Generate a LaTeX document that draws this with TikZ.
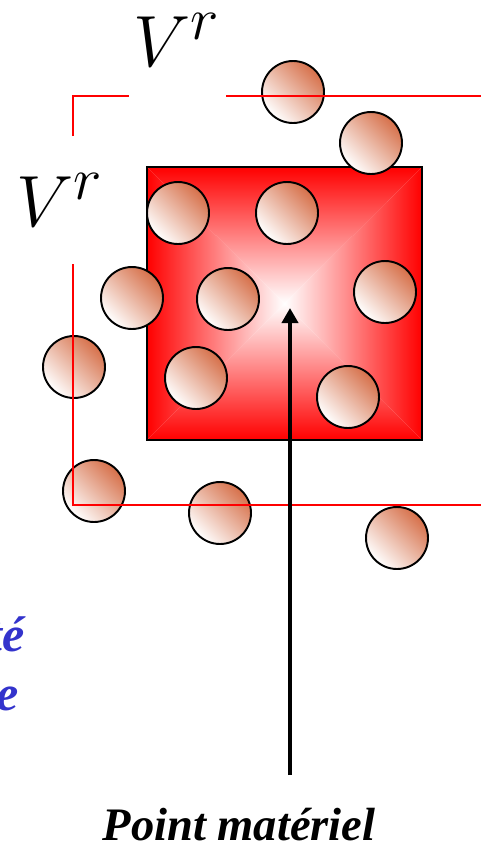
\documentclass[tikz,border=0pt]{standalone}
\usepackage{amsmath,amssymb}
\usepackage{fontspec}
\setmainfont{Liberation Serif}
\usepackage{xcolor}
\usepackage{tikz}
\usetikzlibrary{arrows.meta, positioning, calc}

\definecolor{grainbrown}{RGB}{214,112,74}
\definecolor{textblue}{RGB}{51,51,204}

\tikzset{
  grain/.style={draw=black, line width=1.1pt, top color=grainbrown, bottom color=white, shading angle=-45},
  vrline/.style={red, line width=0.85pt},
  pointer/.style={line width=2.3pt, -{Triangle[length=0.3cm, width=0.32cm]}},
  vrlabel/.style={anchor=base west, inner sep=0, font=\Huge, scale=1.66},
}

\begin{document}
\begin{tikzpicture}[x=0.02cm, y=-0.02cm]
  \clip (0,0) rectangle (481,852);
  % Element de volume: square with white centre, red edges
  \begin{scope}
    \coordinate (sqc) at (284.5,303.5);
    \shade[top color=red, middle color=red!30, bottom color=white]
      (147,167) -- (422,167) -- (sqc) -- cycle;
    \shade[top color=white, middle color=red!30, bottom color=red]
      (147,440) -- (422,440) -- (sqc) -- cycle;
    \shade[left color=red, middle color=red!30, right color=white]
      (147,167) -- (147,440) -- (sqc) -- cycle;
    \shade[left color=white, middle color=red!30, right color=red]
      (422,167) -- (422,440) -- (sqc) -- cycle;
    \draw[line width=1.1pt] (147,167) rectangle (422,440);
  \end{scope}
  % Grains
  \foreach \gx/\gy in {293/92, 371/143, 178/213, 287/213, 228/299, 385/292,
                       196/378, 348/397, 132/298, 74/367, 94/491, 220/513, 397/538}
    \shade[grain] (\gx,\gy) circle[radius=0.62cm];
  % Volume V^r, broken frame
  \draw[vrline] (73,136) -- (73,96) -- (129,96);
  \draw[vrline] (226,96) -- (481,96);
  \draw[vrline] (73,264) -- (73,505) -- (481,505);
  \node[vrlabel] (vrtop) at (133,66) {$V^r$};
  \node[vrlabel] (vrleft) at (16,226) {$V^r$};
  % Point materiel
  \node[anchor=base, inner sep=0, font=\fontsize{26.5}{30}\selectfont\bfseries\itshape] (pm) at (239,840) {Point matériel};
  \coordinate (foot) at (290,775);
  \coordinate (pt) at (290,308);
  \draw[pointer] (foot) -- (pt);
  % Cut-off caption on the left
  \node[anchor=base east, inner sep=0, textblue, font=\fontsize{28.5}{32}\selectfont\bfseries\itshape] (capa) at (25,651) {Hétérogénéité};
  \node[anchor=base east, inner sep=0, textblue, font=\fontsize{28.5}{32}\selectfont\bfseries\itshape] (capb) at (19,710) {microscopique};
\end{tikzpicture}
\end{document}
